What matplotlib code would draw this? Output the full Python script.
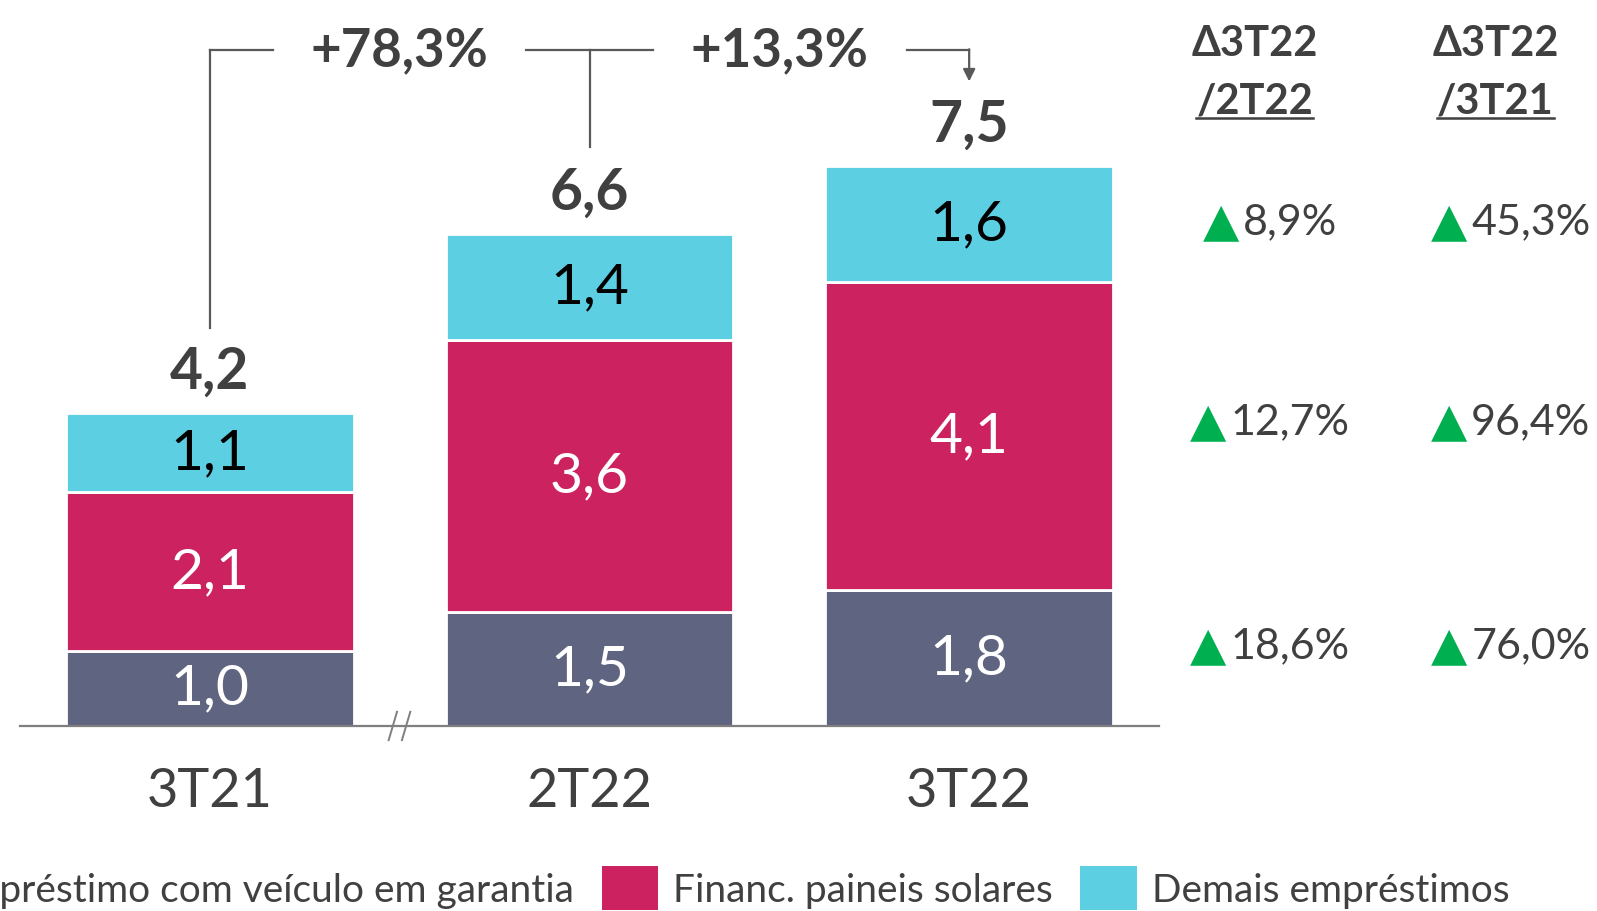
import matplotlib
matplotlib.use("Agg")
import matplotlib.pyplot as plt
from matplotlib.patches import Patch
from matplotlib.offsetbox import TextArea, HPacker, AnnotationBbox

plt.rcParams['font.family'] = ['Lato', 'DejaVu Sans']

# data
periods = ['3T21', '2T22', '3T22']
veiculo = [1.01, 1.53, 1.82]
solares = [2.12, 3.64, 4.13]
demais = [1.07, 1.43, 1.55]
totais = [4.2, 6.6, 7.5]
growth_labels = ['+78,3%', '+13,3%']
series_names = ['Empréstimo com veículo em garantia', 'Financ. paineis solares', 'Demais empréstimos']
delta_headers = ['Δ3T22', 'Δ3T22']
delta_sub = ['/2T22', '/3T21']
# rows: demais, solares, veiculo
delta_qoq = ['8,9%', '12,7%', '18,6%']
delta_yoy = ['45,3%', '96,4%', '76,0%']

c_veic = '#5F6480'
c_sol = '#CC2360'
c_dem = '#5DCFE3'
txt = '#404040'
line_c = '#595959'
green = '#00B050'

fig = plt.figure(figsize=(15.97, 9.12), dpi=100)
ax = fig.add_axes([20 / 1597, 0.2029, 1139 / 1597, 0.7971])
ax.set_xlim(-0.5, 2.5)
ax.set_ylim(0, 9.745)

x = range(len(periods))
w = 0.757
ax.bar(x, veiculo, w, color=c_veic, edgecolor='white', linewidth=2)
bot2 = [a for a in veiculo]
ax.bar(x, solares, w, bottom=bot2, color=c_sol, edgecolor='white', linewidth=2)
bot3 = [a + b for a, b in zip(veiculo, solares)]
ax.bar(x, demais, w, bottom=bot3, color=c_dem, edgecolor='white', linewidth=2)

fmt = lambda v: f'{v:.1f}'.replace('.', ',')
for i in x:
    ax.text(i, veiculo[i] / 2, fmt(veiculo[i]), ha='center', va='center', fontsize=41, color='white')
    ax.text(i, bot2[i] + solares[i] / 2, fmt(solares[i]), ha='center', va='center', fontsize=41, color='white')
    ax.text(i, bot3[i] + demais[i] / 2, fmt(demais[i]), ha='center', va='center', fontsize=41, color='black')
    ax.text(i, bot3[i] + demais[i] + 0.56, fmt(totais[i]), ha='center', va='center', fontsize=41,
            fontweight='bold', color=txt)

# axes styling
for s in ['left', 'right', 'top']:
    ax.spines[s].set_visible(False)
ax.spines['bottom'].set_color('#7F7F7F')
ax.spines['bottom'].set_linewidth(1.6)
ax.set_yticks([])
ax.set_xticks(list(x))
ax.set_xticklabels(periods, fontsize=39, color=txt)
ax.tick_params(axis='x', length=0, pad=29)

# axis break marks
for dx in [-0.02, 0.015]:
    ax.plot([0.502 + dx - 0.011, 0.502 + dx + 0.011], [-0.19, 0.19], color='#7F7F7F', lw=1.4,
            clip_on=False)

# growth brackets
yb = 9.06
kw = dict(color=line_c, lw=1.6, clip_on=False)
ax.plot([0, 0], [totais[0] + 1.14, yb], **kw)
ax.plot([0, 0.166], [yb, yb], **kw)
ax.plot([0.832, 1.166], [yb, yb], **kw)
ax.plot([1, 1], [yb, totais[1] + 1.16], **kw)
ax.plot([1.835, 2.0], [yb, yb], **kw)
ax.annotate('', xy=(2.0, totais[2] + 1.14), xytext=(2.0, yb + 0.011),
            arrowprops=dict(arrowstyle='-|>', color=line_c, lw=1.6, mutation_scale=18,
                            shrinkA=0, shrinkB=0), annotation_clip=False)
ax.text(0.5, yb, growth_labels[0], ha='center', va='center', fontsize=38, fontweight='bold', color=txt)
ax.text(1.5, yb, growth_labels[1], ha='center', va='center', fontsize=38, fontweight='bold', color=txt)

# delta table
col_x = [2.792, 3.426]
row_y = [6.76, 4.08, 1.08]
fig.canvas.draw()
renderer = fig.canvas.get_renderer()
for cx, head, sub in zip(col_x, delta_headers, delta_sub):
    ax.text(cx - 0.04, 9.16, head, ha='center', va='center', fontsize=30, fontweight='bold', color=txt,
            clip_on=False)
    t = ax.text(cx - 0.04, 8.38, sub, ha='center', va='center', fontsize=30, fontweight='bold', color=txt,
                clip_on=False)
    bb = t.get_window_extent(renderer).transformed(ax.transData.inverted())
    ax.plot([bb.x0, bb.x1], [bb.y0 + 0.03, bb.y0 + 0.03], color=txt, lw=1.8, clip_on=False)

for cx, vals in zip(col_x, [delta_qoq, delta_yoy]):
    for ry, v in zip(row_y, vals):
        box = HPacker(children=[
            TextArea('▲', textprops=dict(color=green, fontsize=34, family='DejaVu Sans')),
            TextArea(v, textprops=dict(color=txt, fontsize=31)),
        ], align='center', pad=0, sep=3)
        ab = AnnotationBbox(box, (cx, ry), xycoords='data', frameon=False,
                            box_alignment=(0.5, 0.5), annotation_clip=False)
        ax.add_artist(ab)

# legend
handles = [Patch(facecolor=c, edgecolor='none') for c in [c_veic, c_sol, c_dem]]
fig.legend(handles, series_names, loc='center right', bbox_to_anchor=(1510 / 1597, 0.025),
           ncol=3, frameon=False, fontsize=28, handlelength=1.45, handleheight=1.35,
           handletextpad=0.4, columnspacing=0.7, labelcolor=txt, borderpad=0, borderaxespad=0)

fig.savefig('out.png', dpi=100)
